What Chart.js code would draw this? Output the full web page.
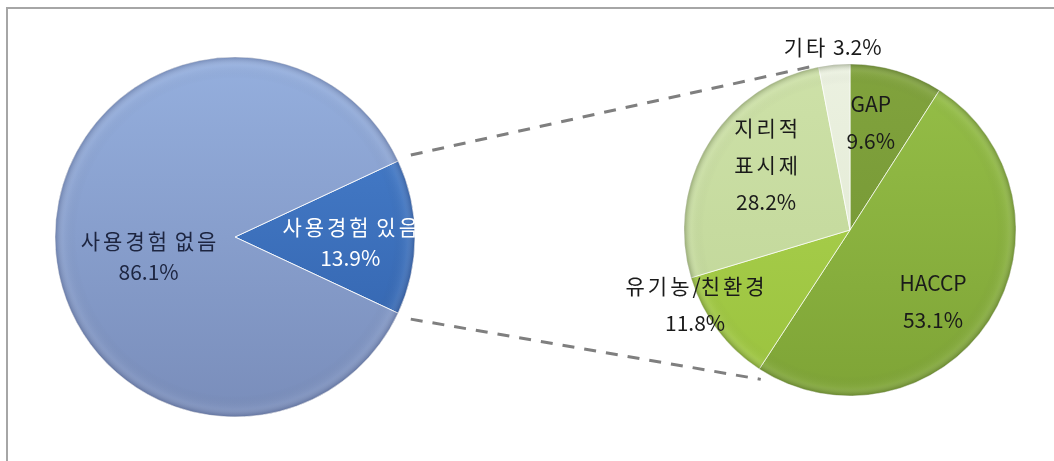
<!DOCTYPE html>
<html>
<head>
<meta charset="utf-8">
<script src="https://cdn.jsdelivr.net/npm/chart.js@4/dist/chart.umd.min.js"></script>
<style>
    html, body { margin: 0; padding: 0; background: #fff; }
    #wrap { position: relative; width: 1054px; height: 461px; overflow: hidden; }
    #wrap canvas { position: absolute; left: 0; top: 0; }
    #frame { position: absolute; left: 6px; top: 7px; width: 1100px; height: 500px;
             border-top: 2px solid #a6a6a6; border-left: 2px solid #a6a6a6; }
</style>
</head>
<body>
<div id="wrap">
    <div id="frame"></div>
    <canvas id="leftPie" width="1054" height="461"></canvas>
    <canvas id="rightPie" width="1054" height="461"></canvas>
</div>
<script>
// main pie: used / not used
var mainLabels = ['사용경험 있음', '사용경험 없음'];
var mainValues = [13.9, 86.1];

// second pie: breakdown of '사용경험 있음'
var subLabels = ['GAP', 'HACCP', '유기농/친환경', '지리적\n표시제', '기타'];
var subValues = [9.6, 53.1, 11.8, 28.2, 3.2];

// colours (top / bottom of a soft vertical gradient)
var mainTop = ['#4d86d4', '#98b3e2'];
var mainBottom = ['#2c5ba4', '#7689b6'];
var subTop = ['#84a63f', '#9ac44b', '#b1d756', '#d0e3ab', '#eef3e4'];
var subBottom = ['#6e9030', '#7a9f33', '#97bf3a', '#bcd393', '#dce5cb'];

// label placement: fraction of radius along the slice middle, then a nudge
var mainLabelPos = [{f: 0.64, dx: 0, dy: 5}, {f: 0.48, dx: 0, dy: 20}];
var subLabelPos = [
    {f: 0.66, dx: -10, dy: -2},
    {f: 0.66, dx: -9, dy: 12},
    {f: 1.0, dx: -22, dy: -25},
    {f: 0.64, dx: 7, dy: -10},
    {f: 1.1, dx: 0, dy: -1}
];
var subJoin = ['\n', '\n', '\n', '\n', ' '];

var FONT = '"Noto Sans CJK KR", "Noto Sans", sans-serif';
var HANGUL = /[\uac00-\ud7a3]/;
var HANGUL_SPACING = 3;

function vGradient(tops, bottoms) {
    return function (ctx) {
        var area = ctx.chart.chartArea;
        if (!area) return tops[ctx.dataIndex];
        var meta = ctx.chart.getDatasetMeta(0);
        var arc = meta.data[ctx.dataIndex];
        var cy = (area.top + area.bottom) / 2;
        var r = (arc && arc.outerRadius) ? arc.outerRadius : (area.bottom - area.top) / 2;
        var g = ctx.chart.ctx.createLinearGradient(0, cy - r, 0, cy + r);
        g.addColorStop(0, tops[ctx.dataIndex]);
        g.addColorStop(1, bottoms[ctx.dataIndex]);
        return g;
    };
}

/**
 * Darkens the rim a little so the pie looks bevelled like the original
 */
function rimPlugin(rimColor) {
    return {
        id: 'rim',
        afterDatasetsDraw: function (chart) {
            var arc = chart.getDatasetMeta(0).data[0];
            var c = chart.ctx;
            var r = arc.outerRadius;
            var g = c.createRadialGradient(arc.x, arc.y, r * 0.88, arc.x, arc.y, r);
            g.addColorStop(0, 'rgba(0,0,0,0)');
            g.addColorStop(0.6, 'rgba(255,255,255,0.06)');
            g.addColorStop(1, rimColor);
            c.save();
            c.fillStyle = g;
            c.beginPath();
            c.arc(arc.x, arc.y, r, 0, Math.PI * 2);
            c.fill();
            c.restore();
        }
    };
}

// split a line into runs so only Hangul gets the wider spacing
function textRuns(line) {
    var runs = [];
    for (var i = 0; i < line.length; i++) {
        var h = HANGUL.test(line[i]);
        if (runs.length && runs[runs.length - 1].h === h) runs[runs.length - 1].t += line[i];
        else runs.push({t: line[i], h: h});
    }
    return runs;
}

/**
 * Draws the in-slice labels from the arc geometry
 */
function labelPlugin(texts, pos, lineHeight, fontSize, colors) {
    return {
        id: 'sliceLabels',
        afterDatasetsDraw: function (chart) {
            var c = chart.ctx;
            var arcs = chart.getDatasetMeta(0).data;
            c.save();
            c.font = fontSize + 'px ' + FONT;
            c.textAlign = 'left';
            c.textBaseline = 'middle';
            arcs.forEach(function (arc, i) {
                var mid = (arc.startAngle + arc.endAngle) / 2;
                var p = pos[i];
                var x = arc.x + Math.cos(mid) * arc.outerRadius * p.f + p.dx;
                var y = arc.y + Math.sin(mid) * arc.outerRadius * p.f + p.dy;
                var lines = texts[i].split('\n');
                c.fillStyle = colors[i];
                lines.forEach(function (line, k) {
                    var runs = textRuns(line);
                    var total = 0;
                    runs.forEach(function (r) {
                        c.letterSpacing = (r.h ? HANGUL_SPACING : 0) + 'px';
                        r.w = c.measureText(r.t).width;
                        total += r.w;
                    });
                    if (runs.length && runs[runs.length - 1].h) total -= HANGUL_SPACING;
                    var cx = x - total / 2;
                    var ly = y + (k - (lines.length - 1) / 2) * lineHeight;
                    runs.forEach(function (r) {
                        c.letterSpacing = (r.h ? HANGUL_SPACING : 0) + 'px';
                        c.fillText(r.t, cx, ly);
                        cx += r.w;
                    });
                });
            });
            c.restore();
        }
    };
}

var mainTexts = mainLabels.map(function (l, i) { return l + '\n' + mainValues[i].toFixed(1) + '%'; });
var subTexts = subLabels.map(function (l, i) { return l + subJoin[i] + subValues[i].toFixed(1) + '%'; });

var leftChart = new Chart(document.getElementById('leftPie'), {
    type: 'pie',
    data: {
        labels: mainLabels,
        datasets: [{
            data: mainValues,
            backgroundColor: vGradient(mainTop, mainBottom),
            borderColor: 'rgba(255,255,255,0.85)',
            borderWidth: 1,
            radius: 180
        }]
    },
    options: {
        responsive: false,
        animation: false,
        rotation: 65,
        layout: {padding: {left: 0, right: 584, top: 13, bottom: 0}},
        plugins: {legend: {display: false}, tooltip: {enabled: false}}
    },
    plugins: [rimPlugin('rgba(30,40,80,0.28)'), labelPlugin(mainTexts, mainLabelPos, 31, 21, ['#ffffff', '#1d2540'])]
});

// dashed connector lines from the small slice to the second pie
var connectorPlugin = {
    id: 'connectors',
    beforeDatasetsDraw: function (chart) {
        var src = leftChart.getDatasetMeta(0).data[0];
        var arcs = chart.getDatasetMeta(0).data;
        var upperEnd = arcs[3].endAngle;
        var lowerEnd = arcs[1].endAngle - 0.04;
        var c = chart.ctx;
        c.save();
        c.strokeStyle = '#7f7f7f';
        c.lineWidth = 3;
        c.setLineDash([12, 10]);
        c.beginPath();
        c.moveTo(src.x + Math.cos(src.startAngle) * (src.outerRadius + 14), src.y + Math.sin(src.startAngle) * (src.outerRadius + 14));
        c.lineTo(arcs[3].x + Math.cos(upperEnd) * (arcs[3].outerRadius + 2), arcs[3].y + Math.sin(upperEnd) * (arcs[3].outerRadius + 2));
        c.moveTo(src.x + Math.cos(src.endAngle) * (src.outerRadius + 14), src.y + Math.sin(src.endAngle) * (src.outerRadius + 14));
        c.lineTo(arcs[1].x + Math.cos(lowerEnd) * (arcs[1].outerRadius + 8), arcs[1].y + Math.sin(lowerEnd) * (arcs[1].outerRadius + 8));
        c.stroke();
        c.restore();
    }
};

var rightChart = new Chart(document.getElementById('rightPie'), {
    type: 'pie',
    data: {
        labels: subLabels,
        datasets: [{
            data: subValues,
            backgroundColor: vGradient(subTop, subBottom),
            borderColor: 'rgba(255,255,255,0.7)',
            borderWidth: 1,
            radius: 166
        }]
    },
    options: {
        responsive: false,
        animation: false,
        rotation: 0,
        layout: {padding: {left: 646, right: 0, top: 0, bottom: 1}},
        plugins: {legend: {display: false}, tooltip: {enabled: false}}
    },
    plugins: [connectorPlugin, rimPlugin('rgba(40,55,15,0.3)'), labelPlugin(subTexts, subLabelPos, 37, 21, ['#1a1a1a', '#1a1a1a', '#1a1a1a', '#1a1a1a', '#1a1a1a'])]
});
</script>
</body>
</html>
